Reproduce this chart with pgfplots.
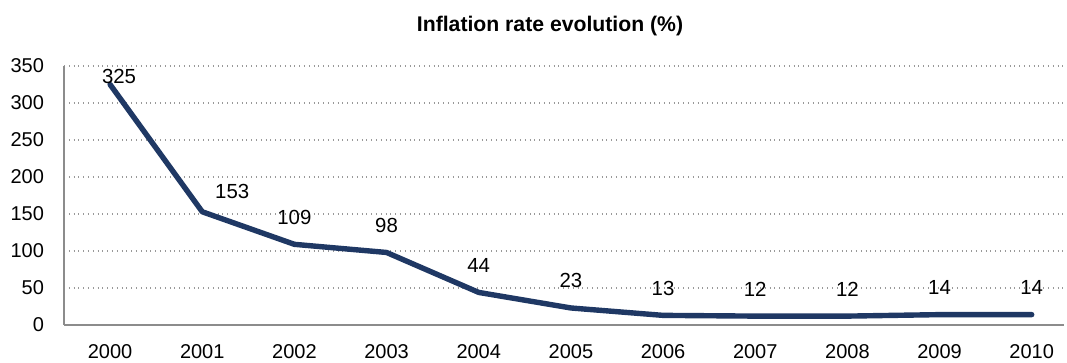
\documentclass[border=0pt]{standalone}
\usepackage{pgfplots}
\pgfplotsset{compat=1.18}
\usepackage{pgfplotstable}
\usepackage{fontspec}
\setmainfont{Liberation Sans}
\definecolor{navy}{HTML}{1F3864}
\definecolor{gridc}{HTML}{999999}
\definecolor{axc}{HTML}{8C8C8C}
\pgfplotstableread{
x y dx dy
0 325 4.5 4
1 153 15 10
2 109 0 13.5
3 98 0 13.5
4 44 0 13.5
5 23 0 13.5
6 13 0 13.5
7 12 0 13.5
8 12 0 13.5
9 14 0 13.5
10 14 0 13.5
}\datatable
\begin{document}
\begin{tikzpicture}
\path[use as bounding box] (0,0) rectangle (533.5pt,181.5pt);
\begin{axis}[
  at={(32pt,19pt)}, anchor=south west,
  scale only axis, width=500pt, height=129.5pt,
  xmin=-0.5, xmax=10.35, ymin=0, ymax=350,
  xtick={0,...,10},
  xticklabels={2000,2001,2002,2003,2004,2005,2006,2007,2008,2009,2010},
  ytick={0,50,...,350},
  axis x line*=bottom, axis y line*=left,
  axis line style={draw=axc, line width=1pt, -},
  major tick length=0pt,
  ymajorgrids,
  grid style={draw=gridc, dotted, line width=0.6pt},
  /pgf/number format/assume math mode=true,
  ticklabel style={font=\fontsize{10}{12}\selectfont},
  xticklabel style={yshift=-6pt},
  yticklabel style={xshift=-6.5pt},
  clip=false,
]
\addplot[navy, line width=2.7pt, line join=round, line cap=round,
  nodes near coords,
  point meta=explicit symbolic,
  visualization depends on={\thisrow{dx}\as\dx},
  visualization depends on={\thisrow{dy}\as\dy},
  nodes near coords style={anchor=center, xshift=\dx pt, yshift=\dy pt, font=\fontsize{10.2}{12}\selectfont, text=black, inner sep=0pt},
] table[x=x, y=y, meta=y] {\datatable};
\end{axis}
\node[font=\bfseries\fontsize{10.6}{12}\selectfont] at (275pt,168.5pt) {Inflation rate evolution (\%)};
\end{tikzpicture}
\end{document}
